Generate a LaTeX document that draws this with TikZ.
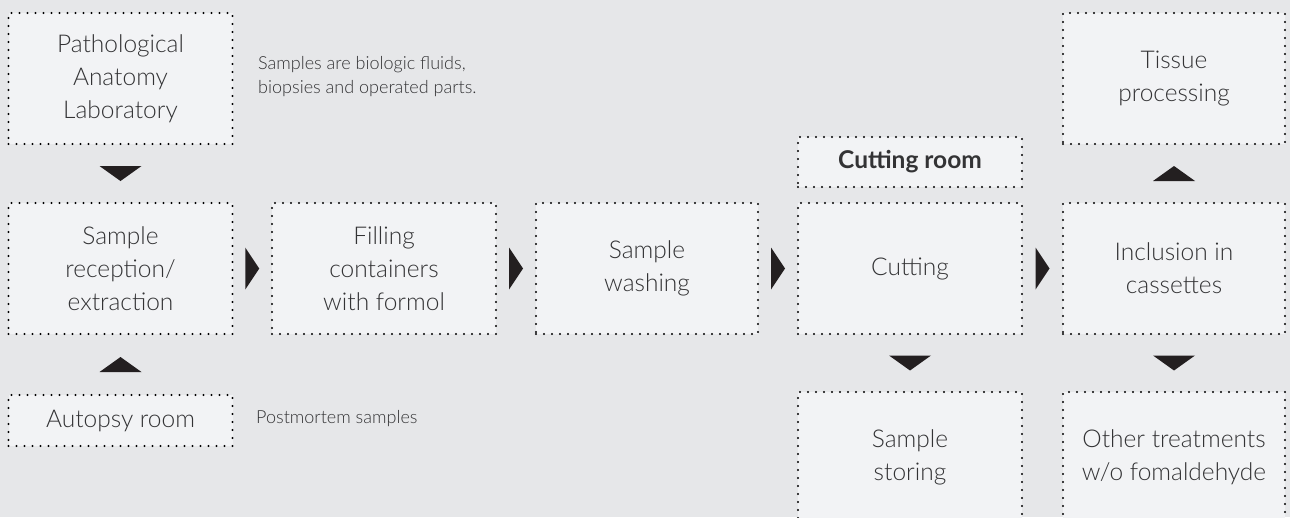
\documentclass[tikz,border=0pt]{standalone}
\usepackage{fontspec}
\setmainfont{Lato}[UprightFont=* Light, BoldFont=* Bold]
\usetikzlibrary{calc}
\definecolor{bgc}{HTML}{E6E7E9}
\definecolor{boxc}{HTML}{F2F3F5}
\definecolor{txtc}{HTML}{333335}
\definecolor{arrc}{HTML}{231F20}
\tikzset{
  box/.style={fill=boxc, draw=black, line width=2.4pt, dash pattern=on 0pt off 8pt, line cap=round,
    text=txtc, align=center, font=\fontsize{24.5}{33}\selectfont, inner sep=0pt},
  note/.style={text=txtc, align=left, anchor=west, font=\fontsize{18}{24}\selectfont, inner sep=0pt},
  tri/.style={fill=arrc, draw=none}
}
\begin{document}
\begin{tikzpicture}[x=1pt,y=-1pt]
\useasboundingbox (0,0) rectangle (1290,517);
\fill[bgc] (0,0) rectangle (1290,517);
\clip (0,0) rectangle (1290,517);
% top row
\node[box, minimum width=224pt, minimum height=131pt] (lab) at (120.5,78.5) {Pathological\\Anatomy\\Laboratory};
\node[box, minimum width=222pt, minimum height=131pt] (tissue) at (1174,78.5) {Tissue\\processing};
\node[box, minimum width=224pt, minimum height=50pt] (croom) at (910,162) {\bfseries Cutting room};
% middle row
\node[box, minimum width=224pt, minimum height=131pt] (rec) at (120.5,268.5) {Sample\\reception/\\extraction};
\node[box, minimum width=224pt, minimum height=131pt] (fill) at (384,268.5) {Filling\\containers\\with formol};
\node[box, minimum width=222pt, minimum height=131pt] (wash) at (647,268.5) {Sample\\washing};
\node[box, minimum width=224pt, minimum height=131pt] (cut) at (910,268.5) {Cutting};
\node[box, minimum width=222pt, minimum height=131pt] (incl) at (1174,268.5) {Inclusion in\\cassettes};
% bottom row
\node[box, minimum width=224pt, minimum height=51pt] (autop) at (120.5,420.5) {Autopsy room};
\node[box, minimum width=224pt, minimum height=130pt] (store) at (910,457) {Sample\\storing};
\node[box, minimum width=222pt, minimum height=130pt] (other) at (1174,457) {Other treatments\\w/o fomaldehyde};
% notes
\node[note] (n1) at (258,77) {Samples are biologic fluids,\\biopsies and operated parts.};
\node[note] (n2) at (256,419) {Postmortem samples};
% arrows (triangles between boxes)
\fill[tri] ($(lab.south)!0.5!(rec.north)$) ++(-21,-7.5) -- ++(42,0) -- ++(-21,15) -- cycle;
\fill[tri] ($(autop.north)!0.5!(rec.south)$) ++(-21,7.5) -- ++(42,0) -- ++(-21,-15) -- cycle;
\fill[tri] ($(rec.east)!0.5!(fill.west)$) ++(-7,-21) -- ++(14,21) -- ++(-14,21) -- cycle;
\fill[tri] ($(fill.east)!0.5!(wash.west)$) ++(-7,-21) -- ++(14,21) -- ++(-14,21) -- cycle;
\fill[tri] ($(wash.east)!0.5!(cut.west)$) ++(-7,-21) -- ++(14,21) -- ++(-14,21) -- cycle;
\fill[tri] ($(cut.east)!0.5!(incl.west)$) ++(-7,-21) -- ++(14,21) -- ++(-14,21) -- cycle;
\fill[tri] ($(incl.north)!0.5!(tissue.south)$) ++(-21,7.5) -- ++(42,0) -- ++(-21,-15) -- cycle;
\fill[tri] ($(cut.south)!0.5!(store.north)$) ++(-21,-7.5) -- ++(42,0) -- ++(-21,15) -- cycle;
\fill[tri] ($(incl.south)!0.5!(other.north)$) ++(-21,-7.5) -- ++(42,0) -- ++(-21,15) -- cycle;
\end{tikzpicture}
\end{document}
